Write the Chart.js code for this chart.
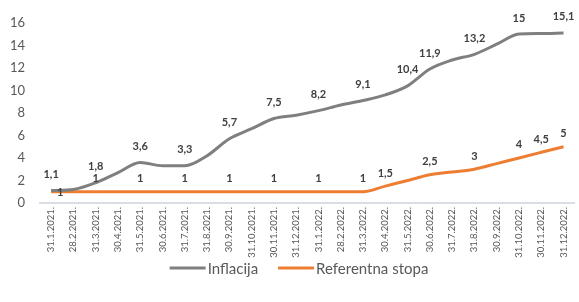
<!DOCTYPE html>
<html>
<head>
<meta charset="utf-8">
<script src="https://cdn.jsdelivr.net/npm/chart.js@4/dist/chart.umd.min.js"></script>
<style>
  html, body { margin: 0; padding: 0; background: #ffffff; }
  #wrap { width: 579px; height: 302px; position: relative; }
</style>
</head>
<body>
<div id="wrap"><canvas id="c" width="579" height="302"></canvas></div>
<script>
const categories = ['31.1.2021.','28.2.2021.','31.3.2021.','30.4.2021.','31.5.2021.','30.6.2021.','31.7.2021.','31.8.2021.','30.9.2021.','31.10.2021.','30.11.2021.','31.12.2021.','31.1.2022.','28.2.2022.','31.3.2022.','30.4.2022.','31.5.2022.','30.6.2022.','31.7.2022.','31.8.2022.','30.9.2022.','31.10.2022.','30.11.2022.','31.12.2022.'];
const inflacija = [1.1, 1.2, 1.8, 2.7, 3.6, 3.3, 3.3, 4.2, 5.7, 6.6, 7.5, 7.8, 8.2, 8.7, 9.1, 9.6, 10.4, 11.9, 12.7, 13.2, 14.1, 15.0, 15.05, 15.1];
const referentnaStopa = [1, 1, 1, 1, 1, 1, 1, 1, 1, 1, 1, 1, 1, 1, 1, 1.5, 2, 2.5, 2.75, 3, 3.5, 4, 4.5, 5];
const inflacijaLabelIdx = [0, 2, 4, 6, 8, 10, 12, 14, 16, 17, 19, 21, 23];
const stopaLabelIdx = [0, 2, 4, 6, 8, 10, 12, 14, 15, 17, 19, 21, 22, 23];
const yTicks = [0, 2, 4, 6, 8, 10, 12, 14, 16];

const FONT = 'Lato, "Open Sans", sans-serif';

const labelPlugin = {
  id: 'pointLabels',
  afterDatasetsDraw(chart) {
    const ctx = chart.ctx;
    ctx.save();
    ctx.font = 'bold 11px ' + FONT;
    ctx.fillStyle = '#404040';
    ctx.textAlign = 'center';
    ctx.textBaseline = 'middle';
    chart.data.datasets.forEach((ds, di) => {
      const meta = chart.getDatasetMeta(di);
      const idxs = di === 0 ? inflacijaLabelIdx : stopaLabelIdx;
      idxs.forEach(i => {
        const pt = meta.data[i];
        if (!pt) return;
        const txt = String(ds.data[i]).replace('.', ',');
        let dx = 0, dy = -16;
        if (di === 1) {
          dy = -13;
          if (i === 0) { dx = 9; dy = 1; }
        }
        ctx.fillText(txt, pt.x + dx, pt.y + dy);
      });
    });
    ctx.restore();
  }
};

const legendPlugin = {
  id: 'lineLegend',
  afterDraw(chart) {
    const ctx = chart.ctx;
    ctx.save();
    ctx.font = '15px ' + FONT;
    ctx.textBaseline = 'middle';
    ctx.textAlign = 'left';
    const sampleW = 36, gapText = 2, gapItem = 20;
    const items = chart.data.datasets.map(ds => ({
      label: ds.label, color: ds.borderColor, w: sampleW + gapText + ctx.measureText(ds.label).width
    }));
    const total = items.reduce((s, it) => s + it.w, 0) + gapItem * (items.length - 1);
    let x = 299 - total / 2;
    const y = 268;
    items.forEach(it => {
      ctx.fillStyle = it.color;
      ctx.fillRect(x, y - 1.5, sampleW, 3);
      ctx.fillStyle = '#595959';
      ctx.fillText(it.label, x + sampleW + gapText, y + 1);
      x += it.w + gapItem;
    });
    ctx.restore();
  }
};

new Chart(document.getElementById('c'), {
  type: 'line',
  data: {
    labels: categories,
    datasets: [
      {
        label: 'Inflacija',
        data: inflacija,
        borderColor: '#7f7f7f',
        backgroundColor: '#7f7f7f',
        borderWidth: 3,
        pointRadius: 0,
        tension: 0.15,
        cubicInterpolationMode: 'monotone'
      },
      {
        label: 'Referentna stopa',
        data: referentnaStopa,
        borderColor: '#ed7d31',
        backgroundColor: '#ed7d31',
        borderWidth: 3,
        pointRadius: 0,
        tension: 0.15,
        cubicInterpolationMode: 'monotone'
      }
    ]
  },
  options: {
    responsive: false,
    animation: false,
    devicePixelRatio: 1,
    layout: { padding: { left: 0, right: 3, top: 16, bottom: 41 } },
    plugins: {
      legend: { display: false },
      tooltip: { enabled: false }
    },
    scales: {
      x: {
        offset: true,
        afterFit(scale) { scale.height = 58; },
        grid: { display: false, drawTicks: false },
        border: { display: true, color: '#d9dee6', width: 2 },
        ticks: {
          autoSkip: false,
          maxRotation: 90,
          minRotation: 90,
          padding: 4,
          color: '#595959',
          font: { family: FONT, size: 9.5 }
        }
      },
      y: {
        min: 0,
        max: 16,
        afterFit(scale) { scale.width = 40; },
        afterBuildTicks(scale) { scale.ticks = yTicks.map(v => ({ value: v })); },
        grid: { display: false, drawTicks: false },
        border: { display: false },
        ticks: {
          padding: 15,
          color: '#595959',
          font: { family: FONT, size: 13 }
        }
      }
    }
  },
  plugins: [labelPlugin, legendPlugin]
});
</script>
</body>
</html>
